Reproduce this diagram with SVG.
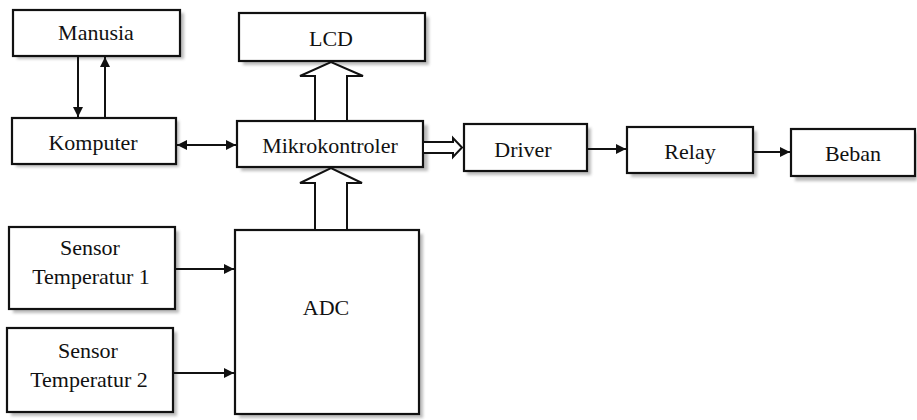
<svg xmlns="http://www.w3.org/2000/svg" width="917" height="420" viewBox="0 0 917 420">
<defs>
<marker id="ah" viewBox="0 0 10 10" refX="10" refY="5" markerWidth="10" markerHeight="10" markerUnits="userSpaceOnUse" orient="auto-start-reverse">
<path d="M0,0 L10,5 L0,10 Z" fill="#111"/>
</marker>
<filter id="sh" x="-10%" y="-10%" width="130%" height="140%">
<feGaussianBlur stdDeviation="1.5"/>
</filter>
</defs>
<style>
.box{fill:#fff;stroke:#111;stroke-width:2.2}
.shd{fill:#bbb;filter:url(#sh)}
.t{font-family:"Liberation Serif","Times New Roman",serif;font-size:22px;fill:#111;text-anchor:middle}
.ln{stroke:#111;stroke-width:2;fill:none}
.hol{fill:#fff;stroke:#111;stroke-width:2;stroke-linejoin:miter}
</style>
<rect width="917" height="420" fill="#fff"/>

<g id="manusia">
<rect class="shd" x="17" y="13" width="167" height="46"/>
<rect class="box" x="13" y="10" width="167" height="46"/>
<text class="t" x="96" y="40">Manusia</text>
</g>
<g id="komputer">
<rect class="shd" x="16" y="121" width="163" height="46"/>
<rect class="box" x="12" y="118" width="164" height="46"/>
<text class="t" x="93" y="150">Komputer</text>
</g>
<g id="lcd">
<rect class="shd" x="243" y="17" width="186" height="48"/>
<rect class="box" x="239" y="13" width="186" height="48"/>
<text class="t" x="331" y="46">LCD</text>
</g>
<g id="mikrokontroler">
<rect class="shd" x="241" y="125" width="187" height="46"/>
<rect class="box" x="237" y="121" width="186" height="46"/>
<text class="t" x="330" y="153">Mikrokontroler</text>
</g>
<g id="driver">
<rect class="shd" x="467" y="128" width="124" height="47"/>
<rect class="box" x="464" y="124" width="123" height="47"/>
<text class="t" x="523" y="157">Driver</text>
</g>
<g id="relay">
<rect class="shd" x="631" y="131" width="126" height="46"/>
<rect class="box" x="627" y="127" width="126" height="46"/>
<text class="t" x="690" y="159">Relay</text>
</g>
<g id="beban">
<rect class="shd" x="795" y="133" width="122" height="48"/>
<rect class="box" x="791" y="129" width="124" height="47"/>
<text class="t" x="853" y="161">Beban</text>
</g>
<g id="sensor1">
<rect class="shd" x="13" y="231" width="166" height="82"/>
<rect class="box" x="9" y="227" width="166" height="82"/>
<text class="t" x="90" y="255">Sensor</text>
<text class="t" x="91" y="284">Temperatur  1</text>
</g>
<g id="sensor2">
<rect class="shd" x="11" y="332" width="166" height="84"/>
<rect class="box" x="7" y="328" width="166" height="84"/>
<text class="t" x="88" y="358">Sensor</text>
<text class="t" x="89" y="387">Temperatur  2</text>
</g>
<g id="adc">
<rect class="shd" x="239" y="234" width="184" height="184"/>
<rect class="box" x="235" y="230" width="184" height="184"/>
<text class="t" x="326" y="315">ADC</text>
</g>

<g id="connectors">
<line class="ln" x1="78" y1="57" x2="78" y2="117" marker-end="url(#ah)"/>
<line class="ln" x1="105" y1="118" x2="105" y2="57" marker-end="url(#ah)"/>
<line class="ln" x1="177" y1="145" x2="236" y2="145" marker-start="url(#ah)" marker-end="url(#ah)"/>
<polygon class="hol" points="315,121 315,76 300,76 331,62 363,76 347,76 347,121"/>
<polygon class="hol" points="315,230 315,183 300,183 331,168 362,183 347,183 347,230"/>
<polygon class="hol" points="423,142 453,142 453,138 462,147.5 453,157 453,153 423,153"/>
<line class="ln" x1="587" y1="149" x2="626" y2="149" marker-end="url(#ah)"/>
<line class="ln" x1="753" y1="152" x2="790" y2="152" marker-end="url(#ah)"/>
<line class="ln" x1="176" y1="269" x2="234" y2="269" marker-end="url(#ah)"/>
<line class="ln" x1="174" y1="373" x2="234" y2="373" marker-end="url(#ah)"/>
</g>
</svg>
